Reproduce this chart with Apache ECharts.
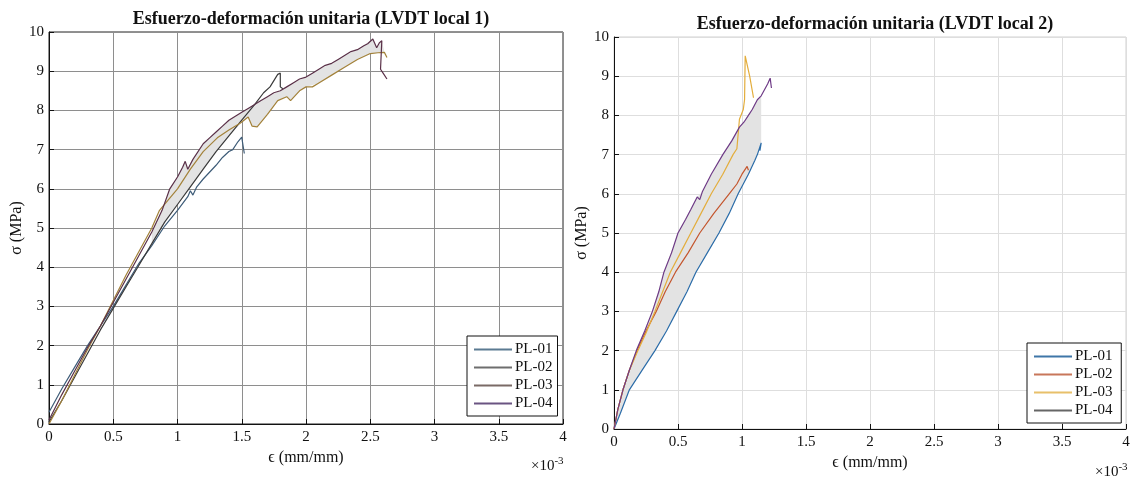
<!DOCTYPE html>
<html>
<head>
<meta charset="utf-8">
<script src="https://cdn.jsdelivr.net/npm/echarts@6/dist/echarts.min.js"></script>
<style>
html, body { margin: 0; background: #fff; }
#chart { width: 1136px; height: 477px; }
</style>
</head>
<body>
<div id="chart"></div>
<script>
// ejes: deformación en x10^-3, esfuerzo en MPa
const xTicks = [0, 0.5, 1, 1.5, 2, 2.5, 3, 3.5, 4];
const yTicks = [0, 1, 2, 3, 4, 5, 6, 7, 8, 9, 10];
const names = ['PL-01', 'PL-02', 'PL-03', 'PL-04'];

// LVDT local 1
const l1_pl01 = [[0,0.3],[0.05,0.6],[0.1,0.9],[0.2,1.45],[0.3,2.0],[0.4,2.5],[0.5,3.0],[0.6,3.55],[0.7,4.1],[0.8,4.55],[0.9,5.05],[1.0,5.45],[1.08,5.8],[1.1,5.95],[1.12,5.84],[1.15,6.05],[1.2,6.25],[1.3,6.6],[1.35,6.8],[1.4,6.95],[1.43,7.0],[1.47,7.2],[1.5,7.32],[1.51,7.1],[1.52,6.9]];
const l1_pl02 = [[0,0.05],[0.1,0.6],[0.2,1.2],[0.3,1.8],[0.4,2.4],[0.5,2.95],[0.6,3.5],[0.7,4.05],[0.8,4.6],[0.9,5.15],[1.0,5.6],[1.1,6.05],[1.2,6.5],[1.3,6.95],[1.4,7.35],[1.5,7.75],[1.55,7.95],[1.6,8.15],[1.67,8.45],[1.72,8.6],[1.78,8.92],[1.8,8.95],[1.8,8.6],[1.82,8.55]];
const l1_pl03 = [[0,0],[0.1,0.6],[0.2,1.25],[0.3,1.9],[0.4,2.5],[0.5,3.15],[0.6,3.8],[0.7,4.4],[0.8,5.0],[0.86,5.45],[1.0,6.0],[1.1,6.5],[1.2,6.95],[1.31,7.3],[1.4,7.5],[1.49,7.68],[1.55,7.83],[1.58,7.6],[1.62,7.58],[1.7,7.9],[1.78,8.25],[1.85,8.35],[1.88,8.25],[1.95,8.5],[2.0,8.6],[2.05,8.6],[2.1,8.7],[2.2,8.9],[2.3,9.1],[2.4,9.3],[2.5,9.45],[2.56,9.47],[2.61,9.48],[2.63,9.35]];
const l1_pl04 = [[0,0.1],[0.1,0.75],[0.2,1.35],[0.3,1.95],[0.4,2.5],[0.5,3.1],[0.6,3.7],[0.7,4.3],[0.8,4.9],[0.88,5.45],[0.94,6.0],[1.0,6.3],[1.04,6.55],[1.06,6.7],[1.08,6.5],[1.12,6.75],[1.2,7.15],[1.25,7.3],[1.3,7.45],[1.35,7.6],[1.4,7.75],[1.45,7.85],[1.5,7.95],[1.55,8.05],[1.6,8.15],[1.65,8.25],[1.7,8.35],[1.75,8.45],[1.8,8.5],[1.85,8.6],[1.9,8.7],[1.95,8.8],[2.0,8.85],[2.05,8.95],[2.1,9.05],[2.15,9.15],[2.2,9.2],[2.25,9.3],[2.3,9.4],[2.35,9.5],[2.4,9.55],[2.45,9.65],[2.48,9.7],[2.52,9.82],[2.55,9.6],[2.57,9.72],[2.59,9.78],[2.58,9.05],[2.6,8.95],[2.63,8.8]];
const l1_bandTop = [[0.8,4.9],[0.88,5.45],[0.94,6.0],[1.0,6.3],[1.06,6.7],[1.08,6.5],[1.12,6.75],[1.2,7.15],[1.3,7.45],[1.4,7.75],[1.5,7.95],[1.6,8.15],[1.7,8.35],[1.8,8.5],[1.9,8.7],[2.0,8.85],[2.1,9.05],[2.2,9.2],[2.3,9.4],[2.4,9.55],[2.52,9.82],[2.55,9.6],[2.59,9.78],[2.61,9.48]];
const l1_bandLow = [[0.8,4.6],[0.9,5.15],[1.0,5.6],[1.1,6.05],[1.2,6.5],[1.3,6.95],[1.4,7.35],[1.5,7.7],[1.55,7.83],[1.58,7.6],[1.62,7.58],[1.7,7.9],[1.78,8.25],[1.85,8.35],[1.88,8.25],[1.95,8.5],[2.0,8.6],[2.1,8.7],[2.2,8.9],[2.3,9.1],[2.4,9.3],[2.5,9.45],[2.61,9.48]];

// LVDT local 2
const l2_pl01 = [[0,0],[0.05,0.4],[0.12,1.0],[0.22,1.5],[0.32,2.0],[0.41,2.5],[0.49,3.0],[0.57,3.5],[0.64,4.0],[0.73,4.5],[0.82,5.0],[0.9,5.5],[0.97,6.0],[1.05,6.5],[1.1,6.85],[1.12,7.0],[1.15,7.3],[1.14,7.1]];
const l2_pl02 = [[0,0],[0.03,0.5],[0.07,1.0],[0.12,1.5],[0.18,2.0],[0.25,2.5],[0.33,3.0],[0.4,3.5],[0.48,4.0],[0.58,4.5],[0.67,5.0],[0.78,5.5],[0.9,6.0],[0.96,6.25],[1.0,6.5],[1.04,6.7],[1.05,6.6]];
const l2_pl03 = [[0,0],[0.03,0.5],[0.07,1.0],[0.12,1.5],[0.18,1.95],[0.25,2.45],[0.32,3.0],[0.38,3.5],[0.44,4.0],[0.52,4.5],[0.6,5.0],[0.68,5.5],[0.76,6.0],[0.85,6.5],[0.93,7.0],[0.96,7.15],[0.98,7.9],[1.01,8.15],[1.02,8.4],[1.025,9.52],[1.06,9.0],[1.09,8.45]];
const l2_pl04 = [[0,0],[0.03,0.5],[0.07,1.0],[0.12,1.5],[0.18,2.05],[0.24,2.5],[0.3,3.0],[0.35,3.5],[0.39,4.0],[0.45,4.5],[0.5,5.0],[0.56,5.35],[0.6,5.6],[0.65,5.92],[0.67,5.85],[0.69,6.05],[0.76,6.5],[0.85,7.0],[0.92,7.35],[0.98,7.7],[1.02,7.85],[1.05,8.0],[1.08,8.15],[1.12,8.4],[1.15,8.5],[1.2,8.8],[1.22,8.95],[1.23,8.7]];
const l2_bandTop = [[0,0],[0.07,1.0],[0.18,2.05],[0.3,3.0],[0.39,4.0],[0.5,5.0],[0.6,5.6],[0.65,5.92],[0.69,6.05],[0.85,7.0],[0.98,7.7],[1.05,8.0],[1.12,8.4],[1.15,8.5]];
const l2_bandLow = [[0,0],[0.12,1.0],[0.32,2.0],[0.49,3.0],[0.64,4.0],[0.82,5.0],[0.97,6.0],[1.05,6.5],[1.12,7.0],[1.15,7.3]];

const colors1 = ['#3e5c78', '#3a3a3a', '#a3823a', '#5a3048'];
const legendColors1 = ['#5b7a92', '#6e6e6e', '#7a6a66', '#6a5482'];
const colors2 = ['#2b6ca8', '#c4562e', '#e3ad3c', '#6e3a86'];
const legendColors2 = ['#3f76a8', '#c8775a', '#e8c06a', '#666666'];

const serif = 'Liberation Serif';

function bandSeries(top, low, idx) {
  return {
    type: 'custom',
    xAxisIndex: idx,
    yAxisIndex: idx,
    z: 1,
    silent: true,
    data: [[0, 0]],
    renderItem: function (params, api) {
      const pts = top.map(p => api.coord(p)).concat(low.slice().reverse().map(p => api.coord(p)));
      return { type: 'polygon', shape: { points: pts }, style: { fill: '#e3e3e3' } };
    }
  };
}

function lineSeries(name, data, color, idx) {
  return {
    name: name, type: 'line', data: data,
    xAxisIndex: idx, yAxisIndex: idx,
    showSymbol: false, symbol: 'none', z: 3,
    lineStyle: { width: 1.2, color: color },
    itemStyle: { color: color }
  };
}

function xAxisOf(idx, gridColor) {
  return {
    type: 'value', gridIndex: idx, min: 0, max: 4, interval: 0.5,
    name: 'ϵ (mm/mm)', nameLocation: 'middle', nameGap: 24,
    nameTextStyle: { fontFamily: serif, fontSize: 16, color: '#111' },
    axisLine: { lineStyle: { color: '#111', width: 1 } },
    axisTick: { inside: true, length: 5, lineStyle: { color: '#111' } },
    axisLabel: { fontFamily: serif, fontSize: 15, color: '#111', margin: 6 },
    splitLine: { show: true, lineStyle: { color: gridColor, width: 1 } }
  };
}

function yAxisOf(idx, gridColor, gap) {
  return {
    type: 'value', gridIndex: idx, min: 0, max: 10, interval: 1,
    name: 'σ (MPa)', nameLocation: 'middle', nameGap: gap,
    nameTextStyle: { fontFamily: serif, fontSize: 16, color: '#111' },
    axisLine: { show: true, lineStyle: { color: '#111', width: 1 } },
    axisTick: { show: true, inside: true, length: 5, lineStyle: { color: '#111' } },
    axisLabel: { fontFamily: serif, fontSize: 15, color: '#111', margin: 5 },
    splitLine: { show: true, lineStyle: { color: gridColor, width: 1 } }
  };
}

function legendOf(idx, left, top, lcolors) {
  return {
    show: true,
    data: names.map((n, i) => ({ name: n + (idx ? ' ' : ''), itemStyle: { color: lcolors[i] } })),
    orient: 'vertical', left: left, top: top,
    icon: 'rect', itemWidth: 38, itemHeight: 2, itemGap: 3,
    padding: [6, 5, 5, 7],
    borderColor: '#111', borderWidth: 1, borderRadius: 0,
    backgroundColor: '#fff',
    textStyle: { fontFamily: serif, fontSize: 15, lineHeight: 15, color: '#111', padding: [0, 0, 0, -2] },
    selectedMode: false
  };
}

const series = [
  bandSeries(l1_bandTop, l1_bandLow, 0),
  bandSeries(l2_bandTop, l2_bandLow, 1)
];
[l1_pl01, l1_pl02, l1_pl03, l1_pl04].forEach((d, i) => series.push(lineSeries(names[i], d, colors1[i], 0)));
[l2_pl01, l2_pl02, l2_pl03, l2_pl04].forEach((d, i) => series.push(lineSeries(names[i] + ' ', d, colors2[i], 1)));

const option = {
  animation: false,
  backgroundColor: '#fff',
  title: [
    { text: 'Esfuerzo-deformación unitaria (LVDT local 1)', left: 306, top: 5, textAlign: 'center',
      textStyle: { fontFamily: serif, fontSize: 18, fontWeight: 'bold', color: '#111' } },
    { text: 'Esfuerzo-deformación unitaria (LVDT local 2)', left: 870, top: 10, textAlign: 'center',
      textStyle: { fontFamily: serif, fontSize: 18, fontWeight: 'bold', color: '#111' } },
    { text: '×10{s|-3}', left: 526, top: 451,
      textStyle: { fontFamily: serif, fontSize: 15, fontWeight: 'normal', color: '#111',
        rich: { s: { fontFamily: serif, fontSize: 11, verticalAlign: 'top', padding: [0, 0, 9, 0] } } } },
    { text: '×10{s|-3}', left: 1090, top: 457,
      textStyle: { fontFamily: serif, fontSize: 15, fontWeight: 'normal', color: '#111',
        rich: { s: { fontFamily: serif, fontSize: 11, verticalAlign: 'top', padding: [0, 0, 9, 0] } } } }
  ],
  grid: [
    { left: 49, top: 32, width: 514, height: 392, show: true, borderColor: '#222', borderWidth: 1, backgroundColor: 'transparent' },
    { left: 614, top: 37, width: 512, height: 392, show: true, borderColor: '#d0d0d0', borderWidth: 1, backgroundColor: 'transparent' }
  ],
  xAxis: [xAxisOf(0, '#8e8e8e'), xAxisOf(1, '#dedede')],
  yAxis: [yAxisOf(0, '#8e8e8e', 14), yAxisOf(1, '#dedede', 23)],
  legend: [legendOf(0, 467, 336, legendColors1), legendOf(1, 1027, 343, legendColors2)],
  series: series
};

const chart = echarts.init(document.getElementById('chart'));
chart.setOption(option);
</script>
</body>
</html>
